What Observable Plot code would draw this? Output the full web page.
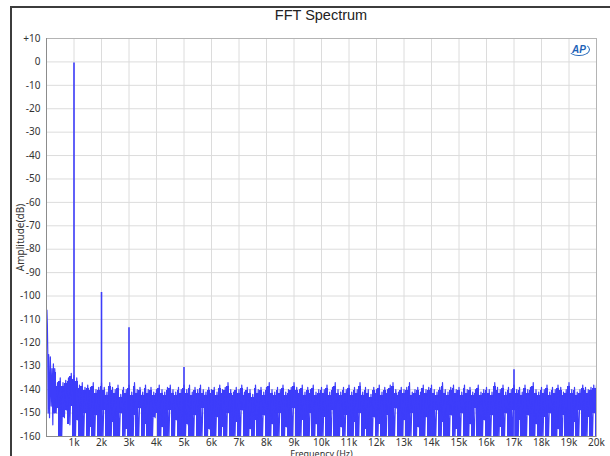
<!DOCTYPE html>
<html><head><meta charset="utf-8">
<script src="https://cdn.jsdelivr.net/npm/d3@7"></script>
<script src="https://cdn.jsdelivr.net/npm/@observablehq/plot@0.6"></script>
<style>
html,body{margin:0;padding:0;background:#fff;}
body{width:610px;height:456px;overflow:hidden;position:relative;font-family:"Noto Sans",sans-serif;}
#frame{position:absolute;left:10px;top:6px;width:640px;height:470px;border-left:2px solid #3c3c3c;border-top:2px solid #3c3c3c;pointer-events:none;}
#title{height:30px;box-sizing:border-box;padding-top:7px;margin-left:46px;width:550px;text-align:center;font-family:"Liberation Sans",Arial,sans-serif;font-size:14.5px;color:#222;}
#logo{position:absolute;left:568px;top:43px;font-family:"Liberation Sans",Arial,sans-serif;font-style:italic;font-weight:bold;font-size:10px;color:#1d63b8;border:1.5px solid #1d63b8;border-radius:50%;padding:0 3px;line-height:11px;border-left-color:transparent;border-top-color:transparent;}
svg{display:block;}
</style></head>
<body>
<div id="frame"></div>
<div id="title">FFT Spectrum</div>
<div id="chart"></div>
<div id="logo">AP</div>
<script>
// Low-frequency rise (Hz, dB)
const lowHz = [15, 30, 45, 60, 80, 110, 140, 170, 200, 230, 250, 280];
const lowDb = [-106, -112, -123, -150, -125, -152, -126, -147, -131, -155, -129, -150];

// Noise floor: upper peaks every 100 Hz starting at 300 Hz, lower troughs 50 Hz after each
const noiseStartHz = 300;
const noiseStepHz = 100;
const noiseTop = [
  -131, -137, -135, -137, -136, -135, -133,
  -134, -135, -138, -137, -139, -138, -139, -137, -140, -139,
  -137, -139, -141, -137, -139, -140, -138, -142, -139, -140,
  -138, -141, -137, -140, -139, -141, -138, -140, -139, -141,
  -140, -138, -140, -141, -139, -138, -140, -141, -139, -140,
  -138, -140, -138, -141, -139, -140, -138, -140, -141, -139,
  -140, -139, -141, -138, -140, -139, -137, -140, -141, -139,
  -140, -138, -141, -139, -140, -142, -138, -140, -139, -141,
  -139, -137, -140, -141, -139, -140, -138, -141, -140, -139,
  -137, -139, -140, -138, -141, -139, -140, -138, -141, -140,
  -139, -140, -138, -141, -139, -137, -140, -141, -139, -140,
  -138, -141, -139, -140, -137, -141, -139, -140, -142, -139,
  -140, -138, -141, -139, -140, -138, -137, -140, -141, -139,
  -140, -139, -137, -141, -140, -139, -141, -138, -140, -139,
  -138, -140, -141, -139, -137, -140, -141, -139, -138, -140,
  -139, -141, -138, -140, -139, -141, -140, -138, -141, -140,
  -139, -140, -141, -137, -139, -140, -138, -141, -139, -140,
  -138, -140, -139, -141, -138, -140, -139, -137, -140, -141,
  -139, -140, -138, -141, -139, -140, -138, -139, -141, -140,
  -137, -140, -139, -141, -140, -138, -139, -140, -139, -138,
  -138
];
const noiseLow = [
  -150, -148, -162, -152, -149, -155, -147,
  -162, -153, -162, -162, -150, -162, -156, -162, -151, -162,
  -162, -149, -162, -162, -154, -162, -162, -150, -162, -157,
  -162, -162, -151, -162, -148, -162, -155, -162, -162, -152,
  -150, -162, -156, -162, -162, -149, -162, -153, -162, -162,
  -162, -155, -162, -162, -151, -162, -162, -148, -162, -157,
  -162, -162, -152, -162, -156, -162, -150, -162, -162, -154,
  -162, -149, -162, -162, -157, -162, -153, -162, -162, -151,
  -162, -162, -155, -162, -162, -150, -162, -156, -162, -162,
  -148, -162, -162, -153, -162, -162, -150, -162, -155, -162,
  -162, -152, -162, -162, -149, -162, -162, -156, -162, -151,
  -162, -162, -154, -162, -150, -162, -157, -162, -162, -152,
  -162, -155, -162, -162, -151, -162, -162, -148, -162, -162,
  -153, -162, -162, -150, -162, -156, -162, -162, -152, -162,
  -162, -162, -149, -162, -154, -162, -162, -151, -162, -157,
  -162, -150, -162, -162, -155, -162, -148, -162, -162, -153,
  -162, -162, -151, -162, -162, -156, -162, -150, -162, -162,
  -149, -162, -153, -162, -162, -151, -162, -162, -155, -162,
  -162, -152, -162, -150, -162, -162, -157, -162, -151, -162,
  -162, -162, -154, -162, -149, -162, -162, -152, -162, -150,
  -162
];

// Fundamental and spurs
const peakHz = [1000, 2000, 3000, 5000, 17000];
const peakDb = [-0.5, -98.5, -113.5, -130.5, -131.5];

// Axis ticks
const xTicks = d3.range(1000, 20001, 1000);
const yTicks = d3.range(-160, 11, 10);

const spectrum = [];
lowHz.forEach((f, i) => spectrum.push({f, db: lowDb[i]}));
noiseTop.forEach((t, i) => {
  const f = noiseStartHz + i * noiseStepHz;
  spectrum.push({f, db: t});
  spectrum.push({f: f + noiseStepHz / 2, db: noiseLow[i]});
});
// solid noise band per bin (top to trough)
const bins = noiseTop.map((t, i) => ({
  f1: noiseStartHz + i * noiseStepHz - noiseStepHz / 2,
  f2: noiseStartHz + i * noiseStepHz + noiseStepHz / 2,
  top: t - 1.5,
  low: noiseLow[i]
}));
const peaks = peakHz.map((f, i) => ({f, db: peakDb[i]}));

const blue = "#3d3dfa";

const chart = Plot.plot({
  width: 610,
  height: 426,
  marginLeft: 46,
  marginRight: 14,
  marginTop: 8,
  marginBottom: 20,
  style: {fontFamily: "'Noto Sans', sans-serif", fontSize: "10px", color: "#333", background: "#fff"},
  x: {domain: [0, 20000]},
  y: {domain: [-160, 10]},
  marks: [
    Plot.gridX(xTicks, {stroke: "#dcdcdc", strokeOpacity: 1}),
    Plot.gridY(yTicks, {stroke: "#dcdcdc", strokeOpacity: 1}),
    Plot.frame({stroke: "#b4b4b4"}),
    Plot.rect(bins, {x1: "f1", x2: "f2", y1: "low", y2: "top", fill: blue, shapeRendering: "crispEdges", clip: true}),
    Plot.line(spectrum, {x: "f", y: "db", stroke: blue, strokeWidth: 1.2, clip: true}),
    Plot.ruleX(peaks, {x: "f", y1: -160, y2: "db", stroke: blue, strokeWidth: 1.6, clip: true}),
    Plot.ruleX([0], {stroke: "#8c8c8c"}),
    Plot.ruleY([-160], {stroke: "#8c8c8c"}),
    Plot.axisX(xTicks, {tickSize: 0, tickPadding: 2, tickFormat: d => (d / 1000) + "k", label: null, fill: "#333"}),
    Plot.axisX({ticks: [], tickSize: 0, label: "Frequency (Hz)", labelAnchor: "center", labelArrow: "none", labelOffset: 20, fontSize: 9, fill: "#333"}),
    Plot.axisY(yTicks, {tickSize: 0, tickPadding: 6, tickFormat: d => d > 0 ? "+" + d : String(d), label: "Amplitude(dB)", labelAnchor: "center", labelArrow: "none", labelOffset: 30, fill: "#333"})
  ]
});
document.getElementById("chart").appendChild(chart);
</script>
</body></html>
